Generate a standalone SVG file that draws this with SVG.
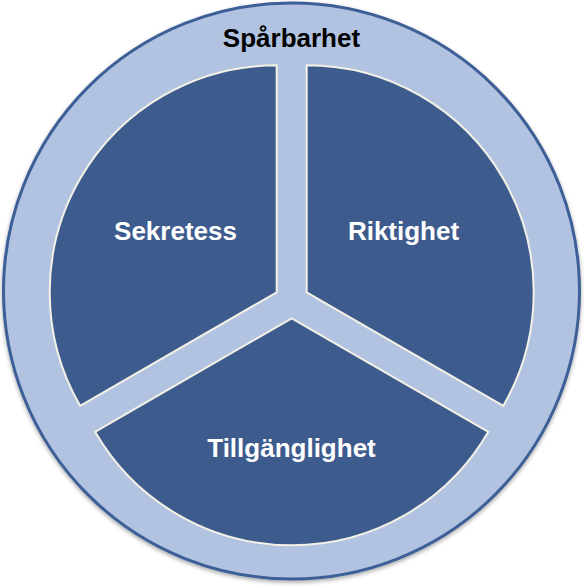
<svg xmlns="http://www.w3.org/2000/svg" width="584" height="587" viewBox="0 0 584 587">
  <defs>
    <style>
      .sector { fill: #3d5b8d; stroke: #f3f1e6; stroke-width: 2; }
      .lbl { font-family: "Liberation Sans", Arial, sans-serif; font-weight: bold; font-size: 26px; text-anchor: middle; fill: #ffffff; }
      .title { fill: #000000; }
    </style>
    <filter id="sh" x="-5%" y="-5%" width="110%" height="110%">
      <feGaussianBlur in="SourceAlpha" stdDeviation="2"/>
      <feOffset dx="0" dy="2" result="b"/>
      <feComponentTransfer><feFuncA type="linear" slope="0.35"/></feComponentTransfer>
      <feMerge><feMergeNode/><feMergeNode in="SourceGraphic"/></feMerge>
    </filter>
  </defs>
  <rect width="584" height="587" fill="#ffffff"/>
  <g id="sparbarhet">
    <circle cx="291.5" cy="291" r="288" fill="#b2c3e1" stroke="#3e5f97" stroke-width="3" filter="url(#sh)"/>
    <text class="lbl title" x="291.5" y="47">Spårbarhet</text>
  </g>
  <g id="sekretess">
    <path class="sector" d="M276.7,292.3 L276.7,65.3 A227,227 0 0 0 80.1,405.8 Z"/>
    <text class="lbl" x="175.5" y="239.5">Sekretess</text>
  </g>
  <g id="riktighet">
    <path class="sector" d="M306.7,292.3 L306.7,65.3 A227,227 0 0 1 503.3,405.8 Z"/>
    <text class="lbl" x="403.5" y="239.5">Riktighet</text>
  </g>
  <g id="tillganglighet">
    <path class="sector" d="M291.7,318.3 L95.1,431.8 A227,227 0 0 0 488.3,431.8 Z"/>
    <text class="lbl" x="291.5" y="456.5">Tillgänglighet</text>
  </g>
  <g id="connectors"/>
</svg>
